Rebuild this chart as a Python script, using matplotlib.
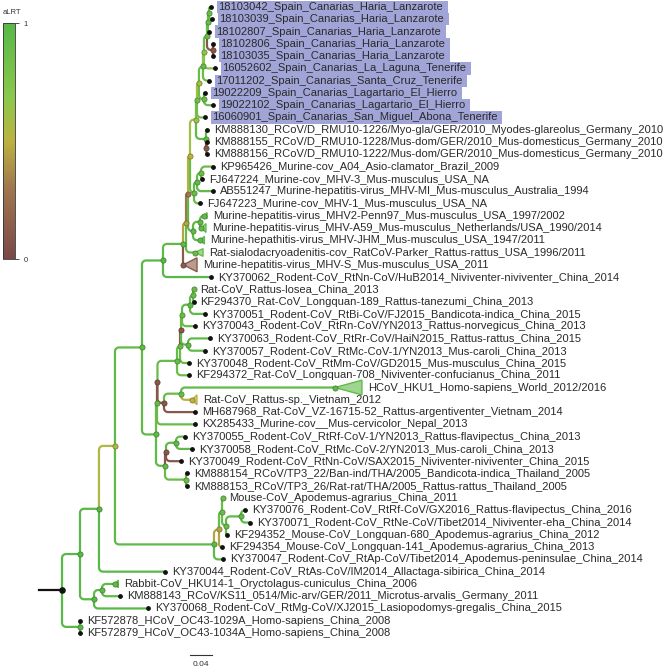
import matplotlib
matplotlib.use("Agg")
import numpy as np
import matplotlib.pyplot as plt
from matplotlib.collections import LineCollection
from matplotlib.colors import LinearSegmentedColormap, Normalize
from matplotlib.cm import ScalarMappable
from matplotlib.patches import Polygon, Rectangle

plt.rcParams['font.family'] = ['Liberation Sans', 'DejaVu Sans']

# aLRT colour scale
alrt_stops = [0.0, 0.3, 0.5, 0.68, 1.0]
alrt_colors = ['#7b4848', '#a0774e', '#bcb23f', '#8cc84b', '#58b848']
cmap = LinearSegmentedColormap.from_list('alrt', list(zip(alrt_stops, alrt_colors)))

# tree pieces: newick, aLRT after ')', branch length after ':'
spain = ("(((((((18103042_Spain_Canarias_Haria_Lanzarote:0.0036,"
         "18103039_Spain_Canarias_Haria_Lanzarote:0.0055)0.9:0.0018,"
         "18102807_Spain_Canarias_Haria_Lanzarote:0.0018)0.92:0.0018,"
         "(18102806_Spain_Canarias_Haria_Lanzarote:0.0009,"
         "18103035_Spain_Canarias_Haria_Lanzarote:0.0009)0.1:0.0109)0.9:0.0055,"
         "16052602_Spain_Canarias_La_Laguna_Tenerife:0.02)0.72:0.0018,"
         "17011202_Spain_Canarias_Santa_Cruz_Tenerife:0.0109)0.9:0.0073,"
         "(19022209_Spain_Canarias_Lagartario_El_Hierro:0.0018,"
         "19022102_Spain_Canarias_Lagartario_El_Hierro:0.0164)0.9:0.0091)0.58:0.0036,"
         "16060901_Spain_Canarias_San_Miguel_Abona_Tenerife:0.0145)0.85:0.0018")
germany = ("(KM888130_RCoV/D_RMU10-1226/Myo-gla/GER/2010_Myodes-glareolus_Germany_2010:0.0018,"
           "(KM888155_RCoV/D_RMU10-1228/Mus-dom/GER/2010_Mus-domesticus_Germany_2010:0.0009,"
           "KM888156_RCoV/D_RMU10-1222/Mus-dom/GER/2010_Mus-domesticus_Germany_2010:0.0009)0.1:0.0009)0.95:0.0182")
murine = ("(((KP965426_Murine-cov_A04_Asio-clamator_Brazil_2009:0.0218,"
          "FJ647224_Murine-cov_MHV-3_Mus-musculus_USA_NA:0.0018)0.9:0.0073,"
          "AB551247_Murine-hepatitis-virus_MHV-MI_Mus-musculus_Australia_1994:0.0291)0.95:0.0055,"
          "FJ647223_Murine-cov_MHV-1_Mus-musculus_USA_NA:0.0109)0.9:0.0073")
mhv = ("((Murine-hepatitis-virus_MHV2-Penn97_Mus-musculus_USA_1997/2002:0.0073,"
       "Murine-hepatitis-virus_MHV-A59_Mus-musculus_Netherlands/USA_1990/2014:0.0018)0.95:0.0127,"
       "Murine-hepathitis-virus_MHV-JHM_Mus-musculus_USA_1947/2011:0.0127)0.95:0.0091")
upper = ("(((((" + "(" + spain + "," + germany + ")0.6:0.0109," + murine + ")0.5:0.0036,"
         + mhv + ")0.3:0.0036,"
         "Rat-sialodacryoadenitis-cov_RatCoV-Parker_Rattus-rattus_USA_1996/2011:0.0164)0.45:0.0055,"
         "Murine-hepatitis-virus_MHV-S_Mus-musculus_USA_2011:0.0005)0.95:0.0364,"
         "KY370062_Rodent-CoV_RtNn-CoV/HuB2014_Niviventer-niviventer_China_2014:0.0873)1:0.0382")
ratcov = ("((((((Rat-CoV_Rattus-losea_China_2013:0.0018,"
          "KF294370_Rat-CoV_Longquan-189_Rattus-tanezumi_China_2013:0.0009)0.9:0.0055,"
          "KY370051_Rodent-CoV_RtBi-CoV/FJ2015_Bandicota-indica_China_2015:0.0273)0.95:0.0145,"
          "KY370043_Rodent-CoV_RtRn-CoV/YN2013_Rattus-norvegicus_China_2013:0.0236)0.9:0.0018,"
          "(KY370063_Rodent-CoV_RtRr-CoV/HaiN2015_Rattus-rattus_China_2015:0.04,"
          "KY370057_Rodent-CoV_RtMc-CoV-1/YN2013_Mus-caroli_China_2013:0.0309)0.95:0.0127)0.1:0.0018,"
          "KY370048_Rodent-CoV_RtMm-CoV/GD2015_Mus-musculus_China_2015:0.0164)0.9:0.0055,"
          "KF294372_Rat-CoV_Longquan-708_Niviventer-confucianus_China_2011:0.0218)0.9:0.0355")
hku1 = ("((HCoV_HKU1_Homo-sapiens_World_2012/2016:0.28,"
        "Rat-CoV_Rattus-sp._Vietnam_2012:0.02)0.9:0.0309,"
        "MH687968_Rat-CoV_VZ-16715-52_Rattus-argentiventer_Vietnam_2014:0.0564)0.1:0.0118")
asia = ("(((" + ratcov + "," + hku1 + ")0.1:0.0009,"
        "KX285433_Murine-cov__Mus-cervicolor_Nepal_2013:0.0691)0.9:0.0018,"
        "(((KY370055_Rodent-CoV_RtRf-CoV-1/YN2013_Rattus-flavipectus_China_2013:0.0164,"
        "KY370058_Rodent-CoV_RtMc-CoV-2/YN2013_Mus-caroli_China_2013:0.0291)0.95:0.0182,"
        "KY370049_Rodent-CoV_RtNn-CoV/SAX2015_Niviventer-niviventer_China_2015:0.0273)0.1:0.0018,"
        "(KM888154_RCoV/TP3_22/Ban-ind/THA/2005_Bandicota-indica_Thailand_2005:0.0018,"
        "KM888153_RCoV/TP3_26/Rat-rat/THA/2005_Rattus-rattus_Thailand_2005:0.0018)0.9:0.0382)0.95:0.0164)0.95:0.0255")
mouse = ("(((Mouse-CoV_Apodemus-agrarius_China_2011:0.0018,"
         "((KY370076_Rodent-CoV_RtRf-CoV/GX2016_Rattus-flavipectus_China_2016:0.0073,"
         "KY370071_Rodent-CoV_RtNe-CoV/Tibet2014_Niviventer-eha_China_2014:0.0164)0.95:0.0273,"
         "KF294352_Mouse-CoV_Longquan-680_Apodemus-agrarius_China_2012:0.0018)0.9:0.0073)0.9:0.0055,"
         "KF294354_Mouse-CoV_Longquan-141_Apodemus-agrarius_China_2013:0.0055)0.45:0.0091,"
         "KY370047_Rodent-CoV_RtAp-CoV/Tibet2014_Apodemus-peninsulae_China_2014:0.0164)0.95:0.18")
basal = ("((Rabbit-CoV_HKU14-1_Oryctolagus-cuniculus_China_2006:0.0236,"
         "KM888143_RCoV/KS11_0514/Mic-arv/GER/2011_Microtus-arvalis_Germany_2011:0.0327)0.95:0.0145,"
         "KY370068_Rodent-CoV_RtMg-CoV/XJ2015_Lasiopodomys-gregalis_China_2015:0.0982)1:0.0255")
oc43 = ("(KF572878_HCoV_OC43-1029A_Homo-sapiens_China_2008:0.0005,"
        "KF572879_HCoV_OC43-1034A_Homo-sapiens_China_2008:0.0005)1:0.0327")
tree = ("(((((" + upper + "," + asia + ")0.95:0.0491," + mouse + ")0.55:0.0291,"
        "KY370044_Rodent-CoV_RtAs-CoV/IM2014_Allactaga-sibirica_China_2014:0.12)1:0.0345,"
        + basal + ")1:0.0327," + oc43 + "):0.0418;")

# collapsed clades: aLRT, number of taxa, clade depth
collapsed = {
    "HCoV_HKU1_Homo-sapiens_World_2012/2016": (0.95, 12, 0.049),
    "Rat-CoV_Rattus-sp._Vietnam_2012": (0.5, 5, 0.009),
    "Murine-hepatitis-virus_MHV-S_Mus-musculus_USA_2011": (0.12, 10, 0.025),
    "Rat-sialodacryoadenitis-cov_RatCoV-Parker_Rattus-rattus_USA_1996/2011": (0.9, 3, 0.0145),
    "Murine-hepatitis-virus_MHV2-Penn97_Mus-musculus_USA_1997/2002": (0.95, 2, 0.0055),
    "Murine-hepatitis-virus_MHV-A59_Mus-musculus_Netherlands/USA_1990/2014": (0.95, 4, 0.009),
    "Murine-hepathitis-virus_MHV-JHM_Mus-musculus_USA_1947/2011": (0.95, 3, 0.008),
    "Rabbit-CoV_HKU14-1_Oryctolagus-cuniculus_China_2006": (0.95, 3, 0.006),
    "Rat-CoV_Rattus-losea_China_2013": (0.9, 2, 0.0),
    "Mouse-CoV_Apodemus-agrarius_China_2011": (0.9, 2, 0.0),
}
highlight_country = "Spain"
scale_len = 0.04


def parse(s):
    pos = 0

    def read():
        nonlocal pos
        nd = {'kids': [], 'name': None, 'sup': None, 'bl': 0.0}
        if s[pos] == '(':
            pos += 1
            nd['kids'].append(read())
            while s[pos] == ',':
                pos += 1
                nd['kids'].append(read())
            pos += 1
        st = pos
        while s[pos] not in ':,();':
            pos += 1
        lab = s[st:pos]
        if nd['kids']:
            nd['sup'] = float(lab) if lab else None
        else:
            nd['name'] = lab
        if s[pos] == ':':
            pos += 1
            st = pos
            while s[pos] not in ',();':
                pos += 1
            nd['bl'] = float(s[st:pos])
        return nd
    return read()


tips = []


def layout(nd, x):
    nd['x'] = x
    if nd['kids']:
        for k in nd['kids']:
            layout(k, x + k['bl'])
        nd['y'] = (nd['kids'][0]['y'] + nd['kids'][-1]['y']) / 2
    else:
        nd['y'] = len(tips)
        tips.append(nd)


root = parse(tree)
layout(root, 0.0)

SX, SY = 550.0, 12.275   # pixels per unit of branch length / per tip row
W, H = 669, 667
fig = plt.figure(figsize=(W / 100, H / 100), dpi=100)
ax = fig.add_axes([0, 0, 1, 1])
ax.set_xlim(-62 / SX, (W - 62) / SX)
ax.set_ylim((H - 7) / SY, -7 / SY)
ax.axis('off')


def branch_pts(x0, y0, x1, y1, rad=4.0):
    dy = (y1 - y0) * SY
    r = min(rad, abs(dy), (x1 - x0) * SX)
    pts = [(x0, y0)]
    if r > 0.3:
        s = np.sign(dy)
        t = np.linspace(0, np.pi / 2, 8)
        cx, cy = x0 + r / SX, y1 - s * r / SY
        pts += list(zip(cx - r / SX * np.cos(t), cy + s * r / SY * np.sin(t)))
    else:
        pts.append((x0, y1))
    pts.append((x1, y1))
    return np.array(pts)


paths, cols = [], []
nodes_int, tips_dot, tris = [], [], []


def value(nd, pv):
    if nd['kids']:
        return nd['sup']
    if nd['name'] in collapsed:
        return collapsed[nd['name']][0]
    return pv


def walk(nd, pv):
    for k in nd['kids']:
        kv = value(k, pv)
        paths.append(branch_pts(nd['x'], nd['y'], k['x'], k['y']))
        cols.append(cmap(kv))
        if k['kids']:
            nodes_int.append(k)
            walk(k, kv)
        elif k['name'] in collapsed:
            tris.append(k)
        else:
            tips_dot.append(k)


walk(root, 1.0)
ax.add_collection(LineCollection(paths, colors=cols, linewidths=1.6, capstyle='round',
                                 joinstyle='round', zorder=2))
ax.plot([-root['bl'], 0], [root['y'], root['y']], color='#111111', lw=1.6, zorder=2)


def darker(c, f=0.65):
    return (c[0] * f, c[1] * f, c[2] * f, 1)


for k in tris:
    sup, ntax, depth = collapsed[k['name']]
    h = min(0.6, 0.18 * np.sqrt(ntax))
    c = cmap(sup)
    if depth > 0:
        tri = [(k['x'], k['y']), (k['x'] + depth, k['y'] - h), (k['x'] + depth, k['y'] + h)]
        ax.add_patch(Polygon(tri, closed=True, facecolor=c, alpha=0.6, edgecolor='none', zorder=2))
        ax.add_patch(Polygon(tri, closed=True, fill=False, edgecolor=c, lw=1.0, zorder=2))
    ax.scatter(k['x'], k['y'], s=14, color=c, edgecolors=[darker(c)], linewidths=0.5, zorder=4)

for k in nodes_int:
    c = cmap(k['sup'])
    ax.scatter(k['x'], k['y'], s=14, color=c, edgecolors=[darker(c)], linewidths=0.5, zorder=4)
ax.scatter([k['x'] for k in tips_dot], [k['y'] for k in tips_dot], s=6, color='#111111', zorder=4)
ax.scatter(root['x'], root['y'], s=14, color='#111111', zorder=4)

texts = []
for k in tips:
    if k['name'] in collapsed:
        lx = k['x'] + collapsed[k['name']][2] + 6 / SX
    else:
        lx = k['x'] + 7 / SX
    t = ax.text(lx, k['y'], k['name'], fontsize=8.05, color='#2a2a2a', va='center', ha='left', zorder=5)
    texts.append((k, t))

fig.canvas.draw()
rend = fig.canvas.get_renderer()
inv = ax.transData.inverted()
for k, t in texts:
    if highlight_country in k['name']:
        bb = t.get_window_extent(rend)
        x0 = inv.transform((bb.x0 - 1, 0))[0]
        x1 = inv.transform((bb.x1 + 5, 0))[0]
        ax.add_patch(Rectangle((x0, k['y'] - 0.5), x1 - x0, 1.0, facecolor='#a0a4d6',
                               edgecolor='none', zorder=0))

# scale bar
sb_x = (190 - 62) / SX
sb_y = (655 - 7) / SY
ax.plot([sb_x, sb_x + scale_len], [sb_y, sb_y], color='#333333', lw=0.8)
ax.text(sb_x + scale_len / 2, (664 - 7) / SY, f"{scale_len:g}", fontsize=6, color='#333333',
        ha='center', va='center')

# colour legend
cax = fig.add_axes([3 / W, 1 - 259 / H, 12 / W, 236 / H])
cb = fig.colorbar(ScalarMappable(Normalize(0, 1), cmap), cax=cax, ticks=[0, 1])
cb.ax.tick_params(length=3, width=0.6, labelsize=5.5, pad=3, color='#333333', labelcolor='#333333')
cb.outline.set_linewidth(0.6)
cb.outline.set_edgecolor('#333333')
fig.text(3 / W, 1 - 13 / H, 'aLRT', fontsize=5.5, color='#333333', va='center', ha='left')

fig.savefig('out.png', dpi=100)
